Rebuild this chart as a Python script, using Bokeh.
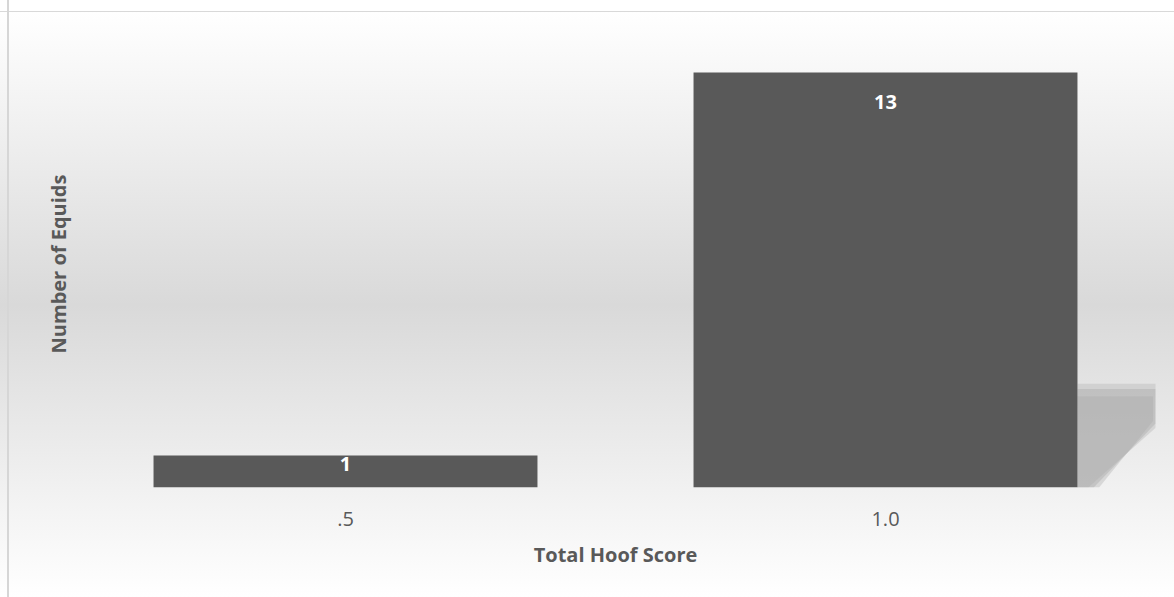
from bokeh.plotting import figure
from bokeh.models import FixedTicker, Range1d, ColumnDataSource
from bokeh.core.properties import value
from bokeh.embed import file_html
from bokeh.resources import INLINE

# ---- data ----
categories = [".5", "1.0"]
counts = [1, 13]
label_offsets = [8, 30]  # label placement (px below bar top)

x_pos = [i + 0.5 for i in range(len(categories))]
bar_w = 0.711

FONT = "Open Sans"
TXT = "#595959"

p = figure(width=1174, height=597, output_backend="svg", toolbar_location=None,
           x_range=Range1d(0, len(categories)), y_range=Range1d(0, 14),
           min_border_left=75, min_border_right=19, min_border_top=40, min_border_bottom=110)

p.background_fill_alpha = 0
p.border_fill_alpha = 0
p.outline_line_color = None
p.styles = {
    "background": "linear-gradient(to right, transparent 7px, #d6d6d6 7px, #d6d6d6 9px, transparent 9px), "
                  "linear-gradient(to bottom, #ffffff 0px, #ffffff 11px, #d9d9d9 11px, #d9d9d9 12px, #ffffff 12px, #d9d9d9 305px, #ffffff 597px)"
}
p.grid.visible = False

# shadow behind the tall bar (derived from bar geometry)
for i, v in enumerate(counts):
    if v < 5:
        continue
    xr = x_pos[i] + bar_w / 2
    sh = v * 0.25
    p.patch([xr, xr, xr + 0.15, xr + 0.15, xr + 0.02],
            [0, sh, sh, sh * 0.6, 0], fill_color="#b0b0b0", fill_alpha=0.35, line_color=None)
    p.patch([xr, xr, xr + 0.145, xr + 0.145, xr + 0.03],
            [0, sh * 0.95, sh * 0.95, sh * 0.62, 0], fill_color="#a8a8a8", fill_alpha=0.4, line_color=None)
    p.patch([xr, xr, xr + 0.14, xr + 0.14, xr + 0.04],
            [0, sh * 0.88, sh * 0.88, sh * 0.64, 0], fill_color="#a8a8a8", fill_alpha=0.35, line_color=None)

src = ColumnDataSource(dict(x=x_pos, top=counts, lbl=[str(c) for c in counts], off=label_offsets))
p.vbar(x="x", top="top", width=bar_w, bottom=0, source=src, fill_color="#595959", line_color=None)
p.text(x="x", y="top", text="lbl", y_offset="off", source=src, text_align="center",
       text_baseline="middle", text_color="white", text_font=value(FONT),
       text_font_style="bold", text_font_size="20px")

xa = p.xaxis[0]
xa.ticker = FixedTicker(ticks=x_pos)
xa.major_label_overrides = {x: c for x, c in zip(x_pos, categories)}
xa.axis_line_color = None
xa.major_tick_line_color = None
xa.minor_tick_line_color = None
xa.major_label_text_font = FONT
xa.major_label_text_font_size = "20px"
xa.major_label_text_color = TXT
xa.major_label_standoff = 18
xa.axis_label = "Total Hoof Score"
xa.axis_label_text_font = FONT
xa.axis_label_text_font_size = "20px"
xa.axis_label_text_font_style = "bold"
xa.axis_label_text_color = TXT
xa.axis_label_standoff = 12

ya = p.yaxis[0]
ya.ticker = FixedTicker(ticks=[])
ya.axis_line_color = None
ya.major_tick_line_color = None
ya.minor_tick_line_color = None
ya.major_label_standoff = 0
ya.axis_label = "Number of Equids"
ya.axis_label_text_font = FONT
ya.axis_label_text_font_size = "20px"
ya.axis_label_text_font_style = "bold"
ya.axis_label_text_color = TXT
ya.axis_label_standoff = 4

open("out.html", "w").write(file_html(p, INLINE))
